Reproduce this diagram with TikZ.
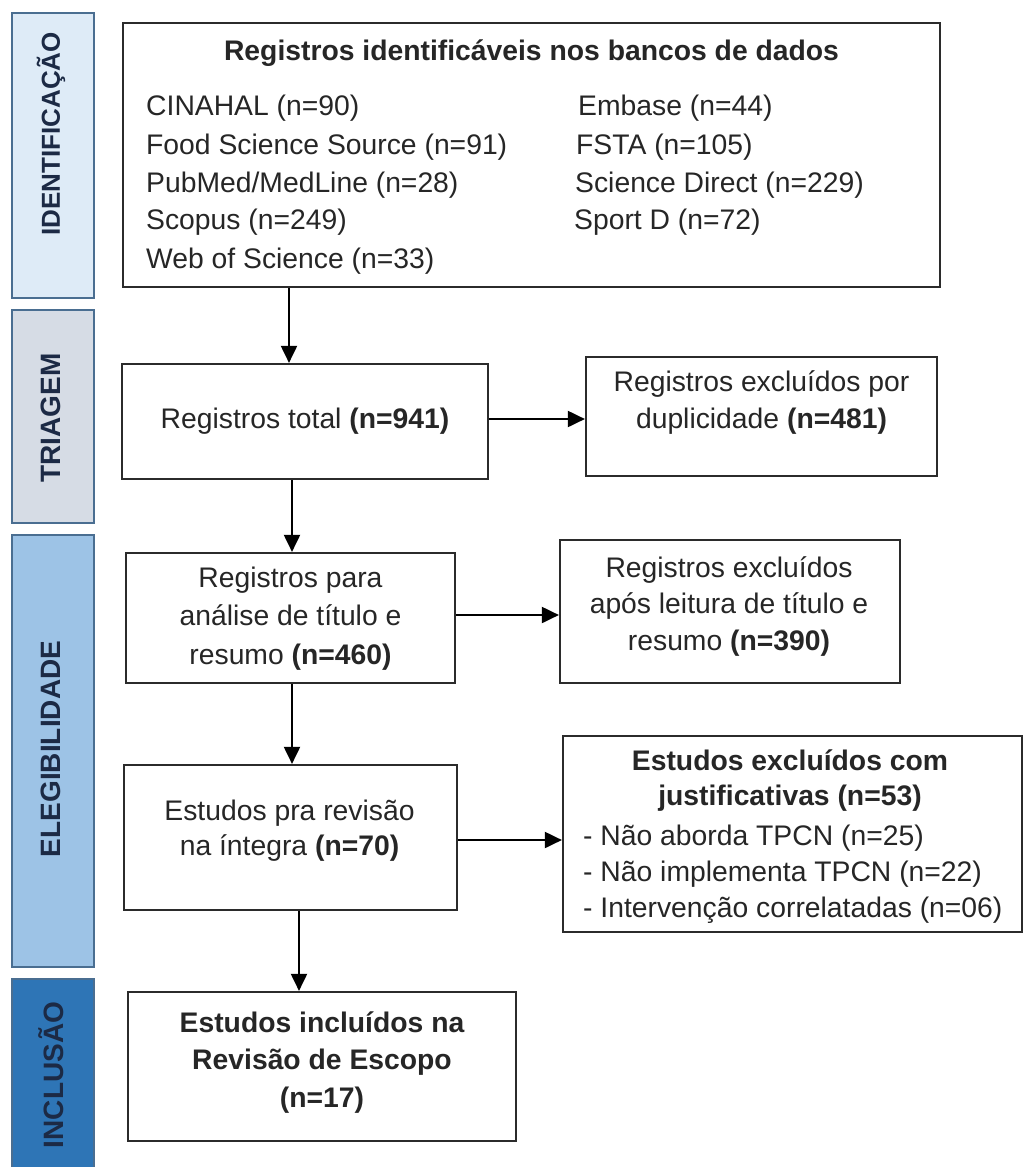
\documentclass[tikz,border=0pt]{standalone}
\usepackage{fontspec}
\setmainfont{Liberation Sans}
\usetikzlibrary{arrows.meta}
\definecolor{txt}{HTML}{262626}
\definecolor{boxline}{HTML}{2B2B2B}
\definecolor{barline}{HTML}{4A6E91}
\definecolor{labtxt}{HTML}{1C2A45}
\definecolor{cid}{HTML}{DEEBF7}
\definecolor{ctri}{HTML}{D6DCE5}
\definecolor{cele}{HTML}{9DC3E6}
\definecolor{cinc}{HTML}{2E75B6}
\newcommand\bxfont{\fontsize{28.3}{37.5}\selectfont}
\begin{document}
\begin{tikzpicture}[x=1pt,y=-1pt,
  box/.style={draw=boxline, line width=2.2pt, fill=white, inner sep=0pt},
  txtnode/.style={inner sep=0pt, text=txt, align=center, font=\bxfont},
  bar/.style={draw=barline, line width=2pt},
  lab/.style={inner sep=0pt, text=labtxt, font=\fontsize{28}{30}\selectfont\bfseries, rotate=90},
  arr/.style={line width=2pt, draw=black, -{Triangle[length=17pt,width=16pt]}}]
\useasboundingbox (0,0) rectangle (1025,1167);
\fill[white] (0,0) rectangle (1025,1167);
% side bars
\draw[bar, fill=cid]  (12,13) rectangle (94,298);
\draw[bar, fill=ctri] (12,310) rectangle (94,523);
\draw[bar, fill=cele] (12,535) rectangle (94,967);
\draw[bar, fill=cinc] (12,979) rectangle (94,1185);
\node[lab, font=\fontsize{26}{28}\selectfont\bfseries] (l1) at (51,134) {IDENTIFICAÇÃO};
\node[lab] (l2) at (51,418) {TRIAGEM};
\node[lab] (l3) at (51,749) {ELEGIBILIDADE};
\node[lab] (l4) at (51,1075) {INCLUSÃO};
% boxes
\node[box, minimum width=817pt, minimum height=264pt] (b1) at (531.5,155) {};
\node[box, minimum width=366pt, minimum height=115pt] (b2) at (305,421.5) {};
\node[box, minimum width=351pt, minimum height=119pt] (b3) at (761.5,416.5) {};
\node[box, minimum width=329pt, minimum height=130pt] (b4) at (290.5,618) {};
\node[box, minimum width=340pt, minimum height=143pt] (b5) at (730,611.5) {};
\node[box, minimum width=333pt, minimum height=145pt] (b6) at (290.5,837.5) {};
\node[box, minimum width=459pt, minimum height=196pt] (b7) at (792.5,834) {};
\node[box, minimum width=388pt, minimum height=149pt] (b8) at (322,1066.5) {};
% box 1 text
\node[txtnode, anchor=base] (t1) at (531.5,60) {\textbf{Registros identificáveis nos bancos de dados}};
\node[txtnode, anchor=base west] (d1) at (146,115) {CINAHAL (n=90)};
\node[txtnode, anchor=base west] (d2) at (146,154) {Food Science Source (n=91)};
\node[txtnode, anchor=base west] (d3) at (146,192) {PubMed/MedLine (n=28)};
\node[txtnode, anchor=base west] (d4) at (146,229) {Scopus (n=249)};
\node[txtnode, anchor=base west] (d5) at (146,268) {Web of Science (n=33)};
\node[txtnode, anchor=base west] (e1) at (578,115) {Embase (n=44)};
\node[txtnode, anchor=base west] (e2) at (576,154) {FSTA (n=105)};
\node[txtnode, anchor=base west] (e3) at (575,192) {Science Direct (n=229)};
\node[txtnode, anchor=base west] (e4) at (574,229) {Sport D (n=72)};
% other texts
\node[txtnode] (t2) at (305,421) {Registros total \textbf{(n=941)}};
\node[txtnode] (t3) at (761.5,402.5) {Registros excluídos por\\duplicidade \textbf{(n=481)}};
\node[txtnode, font=\fontsize{28.3}{38.5}\selectfont] (t4) at (290.5,618.5) {Registros para\\análise de título e\\resumo \textbf{(n=460)}};
\node[txtnode, font=\fontsize{28.3}{36.5}\selectfont] (t5) at (729,606.5) {Registros excluídos\\após leitura de título e\\resumo \textbf{(n=390)}};
\node[txtnode, font=\fontsize{28.3}{35.5}\selectfont] (t6) at (289.5,830.5) {Estudos pra revisão\\na íntegra \textbf{(n=70)}};
\node[txtnode, font=\fontsize{28.3}{35.5}\selectfont\bfseries] (t7) at (790,780.5) {Estudos excluídos com\\justificativas (n=53)};
\node[txtnode, anchor=base west] (j1) at (583,845) {- Não aborda TPCN (n=25)};
\node[txtnode, anchor=base west] (j2) at (583,881) {- Não implementa TPCN (n=22)};
\node[txtnode, anchor=base west] (j3) at (583,917) {- Intervenção correlatadas (n=06)};
\node[txtnode, font=\fontsize{28.3}{37.5}\selectfont\bfseries] (t8) at (322,1062.5) {Estudos incluídos na\\Revisão de Escopo\\(n=17)};
% arrows
\coordinate (x1) at (289,0);
\coordinate (x2) at (292,0);
\coordinate (x3) at (292,0);
\coordinate (x4) at (299,0);
\draw[arr] (b1.south -| x1) -- (b2.north -| x1);
\draw[arr] (b2.south -| x2) -- (b4.north -| x2);
\draw[arr] (b4.south -| x3) -- (b6.north -| x3);
\draw[arr] (b6.south -| x4) -- (b8.north -| x4);
\draw[arr] ([yshift=2.5pt]b2.east) -- ([yshift=2.5pt]b2.east -| b3.west);
\draw[arr] ([yshift=3pt]b4.east) -- ([yshift=3pt]b4.east -| b5.west);
\draw[arr] ([yshift=-2.5pt]b6.east) -- ([yshift=-2.5pt]b6.east -| b7.west);
\end{tikzpicture}
\end{document}
